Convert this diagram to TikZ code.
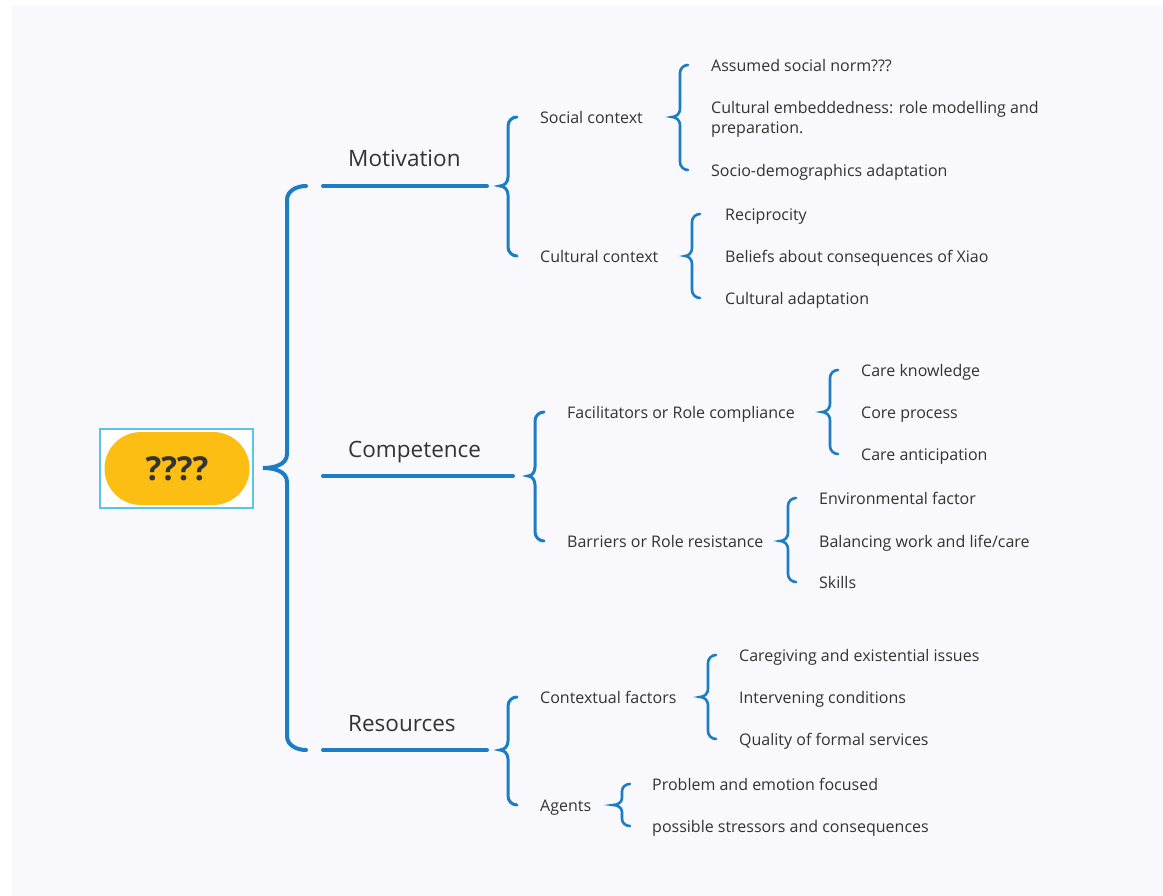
\documentclass[tikz,border=0pt]{standalone}
\usepackage{fontspec}
\setmainfont{Open Sans}
\usetikzlibrary{calc}

\definecolor{bgc}{HTML}{F8F8FD}
\definecolor{bluebr}{HTML}{1C7DC5}
\definecolor{txt}{HTML}{333333}
\definecolor{pillc}{HTML}{FDBE14}
\definecolor{framec}{HTML}{5CC3EE}

% curly bracket: #1 style, #2 point, #3 upper tip, #4 lower tip, #5 arm, #6 radius
\newcommand\curly[6]{%
  \draw[#1] let \p1=#2, \p2=#3, \p3=#4 in
    (\p2) to[out=180,in=90] (\x2-#5pt,\y2-#6pt)
    -- (\x2-#5pt,\y1+#6pt)
    to[out=-90,in=0] (\p1)
    to[out=0,in=90] (\x2-#5pt,\y1-#6pt)
    -- (\x2-#5pt,\y3+#6pt)
    to[out=-90,in=180] (\p3);}

\tikzset{
  br1/.style={draw=bluebr, line width=4, line cap=round},
  br2/.style={draw=bluebr, line width=3, line cap=round},
  br3/.style={draw=bluebr, line width=2.6, line cap=round},
  topic/.style={anchor=base west, inner sep=0, text=txt,
    font=\fontsize{22.5}{26}\selectfont},
  sub/.style={anchor=west, inner sep=0, text=txt,
    font=\fontsize{16}{20}\selectfont, text height=14pt, text depth=1.6pt},
  leaf/.style={anchor=west, inner sep=0, text=txt,
    font=\fontsize{16}{20}\selectfont, text height=14pt, text depth=1.6pt},
  leafml/.style={anchor=west, inner sep=0, text=txt, align=left,
    font=\fontsize{16}{20}\selectfont},
}

\begin{document}
\begin{tikzpicture}[x=1pt,y=-1pt]
\useasboundingbox (0,0) rectangle (1163,896);
\fill[white] (0,0) rectangle (1163,896);
\fill[bgc] (12,5) rectangle (1163,896);

% central topic
\node[draw=framec, line width=1.5, fill=white, minimum width=153, minimum height=79,
      inner sep=0] (frame) at (176.5,468.5) {};
\node[fill=pillc, rounded corners=36.5, minimum width=145, minimum height=73, inner sep=0,
      text=txt, font=\bfseries\fontsize{33}{36}\selectfont] (root) at (177,468.5) {????};

% main topics
\node[topic] (mot) at (348,167) {Motivation};
\node[topic] (com) at (348,457) {Competence};
\node[topic] (res) at (348,731) {Resources};

\coordinate (motL) at (323,186); \coordinate (motR) at (487,186);
\coordinate (comL) at (323,476); \coordinate (comR) at (513,476);
\coordinate (resL) at (323,750); \coordinate (resR) at (487,750);
\draw[br1] (motL) -- (motR);
\draw[br1] (comL) -- (comR);
\draw[br1] (resL) -- (resR);

\coordinate (mainP) at (263,468);
\curly{br1}{(mainP)}{($(motL)+(-17,0)$)}{($(resL)+(-17,0)$)}{19}{14}

% second level
\node[sub] (soc) at (540,117) {Social context};
\node[sub] (cul) at (540,256) {Cultural context};
\node[sub] (fac) at (567,412) {Facilitators or Role compliance};
\node[sub] (bar) at (567,541) {Barriers or Role resistance};
\node[sub] (ctx) at (540,697) {Contextual factors};
\node[sub] (agt) at (540,805) {Agents};

\coordinate (motP) at (500,186);
\coordinate (comP) at (528,476);
\coordinate (resP) at (500,750);
\curly{br2}{(motP)}{($(soc.west)+(-23,0)$)}{($(cul.west)+(-23,0)$)}{9}{9}
\curly{br2}{(comP)}{($(fac.west)+(-23,0)$)}{($(bar.west)+(-23,0)$)}{9}{9}
\curly{br2}{(resP)}{($(ctx.west)+(-23,0)$)}{($(agt.west)+(-23,0)$)}{9}{9}

% leaves
\node[leaf] (s1) at (711,65) {Assumed social norm???};
\node[leafml] (s2) at (711,119) {Cultural embeddedness: role modelling and\\preparation.};
\node[leaf] (s3) at (711,170) {Socio-demographics adaptation};

\node[leaf] (c1) at (725,214) {Reciprocity};
\node[leaf] (c2) at (725,256) {Beliefs about consequences of Xiao};
\node[leaf] (c3) at (725,298) {Cultural adaptation};

\node[leaf] (f1) at (861,370) {Care knowledge};
\node[leaf] (f2) at (861,412) {Core process};
\node[leaf] (f3) at (861,454) {Care anticipation};

\node[leaf] (b1) at (819,498) {Environmental factor};
\node[leaf] (b2) at (819,541) {Balancing work and life/care};
\node[leaf] (b3) at (819,582) {Skills};

\node[leaf] (x1) at (739,655) {Caregiving and existential issues};
\node[leaf] (x2) at (739,697) {Intervening conditions};
\node[leaf] (x3) at (739,739) {Quality of formal services};

\node[leaf] (a1) at (652,784) {Problem and emotion focused};
\node[leaf] (a2) at (652,826) {possible stressors and consequences};

\coordinate (socP) at (672,117);
\coordinate (culP) at (685,256);
\coordinate (facP) at (822,412);
\coordinate (barP) at (780,541);
\coordinate (ctxP) at (700,697);
\coordinate (agtP) at (613,805);
\curly{br3}{(socP)}{($(s1.west)+(-23,0)$)}{($(s3.west)+(-23,0)$)}{8}{8}
\curly{br3}{(culP)}{($(c1.west)+(-25,0)$)}{($(c3.west)+(-25,0)$)}{8}{8}
\curly{br3}{(facP)}{($(f1.west)+(-23,0)$)}{($(f3.west)+(-23,0)$)}{8}{8}
\curly{br3}{(barP)}{($(b1.west)+(-23,0)$)}{($(b3.west)+(-23,0)$)}{8}{8}
\curly{br3}{(ctxP)}{($(x1.west)+(-23,0)$)}{($(x3.west)+(-23,0)$)}{8}{8}
\curly{br3}{(agtP)}{($(a1.west)+(-22,0)$)}{($(a2.west)+(-22,0)$)}{8}{7}
\end{tikzpicture}
\end{document}
